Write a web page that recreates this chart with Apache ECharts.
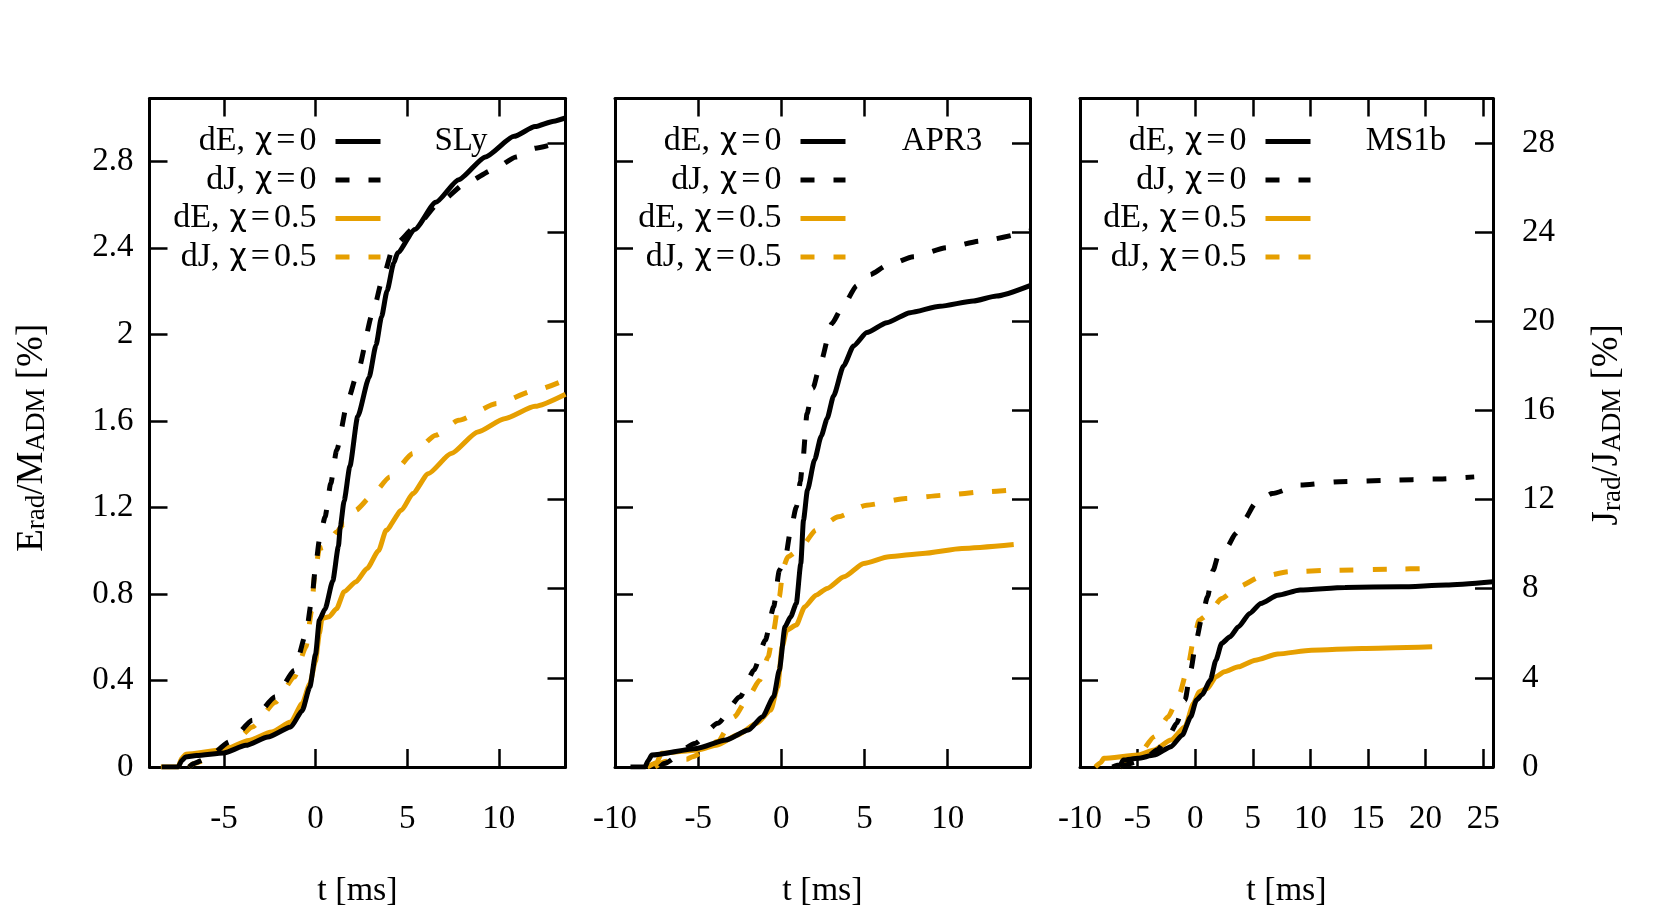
<!DOCTYPE html>
<html><head><meta charset="utf-8">
<script src="https://cdn.jsdelivr.net/npm/echarts@6/dist/echarts.min.js"></script>
<style>html,body{margin:0;padding:0;background:#fff}#c{width:1661px;height:923px}</style>
</head><body><div id="c"></div>
<script>
// ---------- data ----------
const panelNames = ['SLy', 'APR3', 'MS1b'];
const seriesNames = ['dE, χ=0', 'dJ, χ=0', 'dE, χ=0.5', 'dJ, χ=0.5'];
const xRanges = [[-9.06, 13.64], [-10, 14.95], [-10, 25.85]];
const xTicks = [[-5, 0, 5, 10], [-10, -5, 0, 5, 10], [-10, -5, 0, 5, 10, 15, 20, 25]];
const eRange = [0, 3.09];
const eTicks = [0, 0.4, 0.8, 1.2, 1.6, 2, 2.4, 2.8];
const jRange = [0, 30];
const jTicks = [0, 4, 8, 12, 16, 20, 24, 28];

// SLy  (dE in % of M_ADM, dJ in % of J_ADM)
const sly_dE0 = [[-8.4,0],[-7.5,0],[-7.3,0.03],[-7.1,0.046],[-6.5,0.053],[-5,0.065],[-3.8,0.1],[-2.6,0.139],[-1.35,0.185],[-0.73,0.26],[-0.31,0.37],[0,0.52],[0.21,0.68],[0.52,0.73],[0.94,0.86],[1.25,1.02],[1.35,1.11],[1.56,1.23],[1.875,1.39],[2.3,1.62],[2.92,1.80],[3.3,1.95],[3.6,2.08],[3.9,2.2],[4.27,2.33],[4.48,2.377],[5.42,2.485],[6.56,2.61],[7.81,2.715],[9.27,2.82],[10.83,2.915],[11.98,2.96],[13.0,2.985],[13.64,3.0]];
const sly_dJ0 = [[-6.9,0],[-6.67,0.15],[-5.94,0.38],[-4.69,1.13],[-3.44,2.10],[-2.19,3.15],[-1.15,4.34],[-0.52,5.99],[-0.21,7.48],[0,8.98],[0.21,10.19],[0.52,11.22],[0.83,12.72],[1.15,14.21],[1.77,16.47],[2.29,17.70],[3.125,20.39],[3.65,21.88],[4.27,23.40],[5.5,24.27],[6.77,25.34],[8.23,26.21],[9.69,26.80],[10.94,27.38],[12,27.77],[13.44,28.01],[13.64,28.05]];
const sly_dE05 = [[-8.44,0],[-7.5,0],[-7.3,0.04],[-7.08,0.059],[-5,0.08],[-3.65,0.123],[-2.4,0.162],[-1.35,0.208],[-0.73,0.293],[-0.31,0.385],[0,0.49],[0.21,0.617],[0.35,0.686],[0.73,0.694],[1.15,0.732],[1.56,0.81],[2.19,0.855],[2.81,0.917],[3.44,1.0],[3.85,1.094],[4.69,1.187],[5.31,1.264],[6.15,1.356],[7.4,1.449],[8.85,1.549],[10.31,1.61],[11.98,1.667],[13.64,1.723]];
const sly_dJ05 = [[-6.9,0],[-6.67,0.15],[-5.94,0.33],[-4.69,0.89],[-3.44,1.80],[-2.19,2.91],[-1.15,4.04],[-0.52,5.39],[-0.21,7.03],[-0.06,8.53],[0.21,9.81],[0.52,9.87],[1.15,10.55],[1.56,10.92],[2.19,11.52],[3.02,12.13],[4.06,13.02],[5.31,14.07],[6.56,14.89],[7.81,15.56],[9.9,16.31],[11.98,16.9],[13.64,17.38]];

// APR3
const apr_dE0 = [[-9.07,0],[-8.2,0],[-8.0,0.03],[-7.79,0.055],[-5.08,0.086],[-3.33,0.125],[-1.98,0.171],[-1.13,0.232],[-0.46,0.325],[-0.12,0.448],[0.22,0.648],[0.56,0.694],[0.9,0.756],[1.17,0.94],[1.33,1.14],[1.57,1.28],[2.0,1.42],[2.4,1.53],[2.75,1.61],[3.14,1.715],[3.74,1.854],[4.34,1.946],[5.14,2.008],[6.34,2.054],[7.74,2.1],[9.54,2.13],[11.54,2.154],[12.94,2.177],[14.95,2.225]];
const apr_dJ0 = [[-7.3,0],[-7.05,0.16],[-5.19,1.06],[-3.83,1.96],[-2.48,3.15],[-1.64,4.35],[-0.96,5.7],[-0.46,7.19],[-0.12,8.83],[0.22,9.28],[0.56,10.63],[0.9,11.67],[1.14,12.8],[1.3,13.8],[1.54,15.85],[1.9,17.0],[2.34,18.09],[3.04,19.9],[3.64,20.6],[4.54,21.6],[5.34,22.1],[6.34,22.5],[7.94,22.9],[9.94,23.3],[11.94,23.6],[14.95,24.05]];
const apr_dE05 = [[-8.06,0],[-7.5,0.02],[-7.21,0.063],[-5.02,0.079],[-3.83,0.102],[-2.65,0.148],[-1.47,0.202],[-0.63,0.263],[-0.22,0.371],[0.05,0.556],[0.32,0.633],[0.9,0.656],[1.4,0.74],[2.08,0.794],[2.75,0.825],[3.77,0.879],[4.95,0.941],[6.47,0.972],[8.5,0.987],[10.86,1.01],[13.97,1.028]];
const apr_dJ05 = [[-7.6,0],[-7.0,0.25],[-5.69,0.35],[-5.35,0.46],[-3.83,1.14],[-2.82,2.26],[-1.98,3.15],[-1.3,3.9],[-0.79,4.95],[-0.46,6.14],[-0.12,7.64],[0.12,8.98],[0.39,9.43],[1.06,9.73],[2.08,10.63],[3.43,11.23],[5.12,11.75],[7.48,12.05],[9.85,12.2],[12.21,12.35],[13.73,12.42]];

// MS1b
const ms1_dE0 = [[-7.2,0],[-6.5,0.01],[-6.24,0.032],[-4.97,0.04],[-3.56,0.055],[-2.1,0.094],[-1.12,0.148],[-0.39,0.232],[0.1,0.309],[0.58,0.333],[1.32,0.402],[1.8,0.494],[2.29,0.571],[3.02,0.602],[3.75,0.648],[4.73,0.71],[5.7,0.756],[7.16,0.794],[9.11,0.818],[13.01,0.83],[17.88,0.833],[21.78,0.841],[25.85,0.856]];
const ms1_dJ0 = [[-6.48,0],[-4.53,0.31],[-3.31,0.76],[-2.34,1.36],[-1.61,1.96],[-0.88,3.0],[-0.39,4.35],[0.1,5.7],[0.58,6.74],[1.07,7.64],[1.56,8.83],[2.05,9.58],[2.78,9.88],[3.51,10.48],[4.24,11.08],[5.21,11.82],[6.68,12.27],[9.11,12.65],[12.52,12.8],[16.91,12.87],[20.81,12.92],[24.22,13.02]];
const ms1_dE05 = [[-8.67,0],[-8.2,0.02],[-7.94,0.04],[-4.97,0.055],[-3.56,0.079],[-2.1,0.125],[-0.88,0.186],[-0.15,0.294],[0.34,0.348],[1.07,0.363],[1.8,0.417],[2.53,0.44],[3.75,0.463],[5.21,0.494],[7.16,0.522],[10.09,0.54],[14.47,0.548],[20.57,0.556]];
const ms1_dJ05 = [[-6.5,0],[-5.02,0.46],[-3.56,1.36],[-2.34,2.26],[-1.36,3.3],[-0.63,4.5],[-0.15,5.7],[0.34,6.59],[1.07,6.82],[2.29,7.56],[3.75,8.09],[5.7,8.54],[8.14,8.76],[12.04,8.83],[16.91,8.88],[20.57,8.91]];

const panelData = [
  [sly_dE0, sly_dJ0, sly_dE05, sly_dJ05],
  [apr_dE0, apr_dJ0, apr_dE05, apr_dJ05],
  [ms1_dE0, ms1_dJ0, ms1_dE05, ms1_dJ05]
];

// ---------- layout / style ----------
const FONT = 'Liberation Serif';
const BLACK = '#000000', ORANGE = '#E69F00';
const gridLeft = [149.5, 615, 1080];
const gridWidth = [416, 415, 413];
const gridTop = 98.5, gridHeight = 668.5;
const labelX = [461, 942, 1406];
const legendIconRight = [383, 848, 1313];
const lineColors = [BLACK, BLACK, ORANGE, ORANGE];
const dashed = [false, true, false, true];
const DASH = [14, 19];
const LW = 5;

const axisLine = { show: true, onZero: false, lineStyle: { color: BLACK, width: 3 } };
const tickStyle = { color: BLACK, width: 2.5 };
const labelStyle = { fontFamily: FONT, fontSize: 33, color: BLACK, lineHeight: 33 };
const nameStyle = { fontFamily: FONT, fontSize: 34, color: BLACK, lineHeight: 34 };
const titleStyle = { fontFamily: FONT, fontSize: 37, color: BLACK, lineHeight: 37 };
const subRich = {
  s: { fontFamily: FONT, fontSize: 27, lineHeight: 19, verticalAlign: 'bottom', color: BLACK }
};

const grids = [], xAxes = [], yAxes = [], series = [], legends = [], graphics = [];
for (let i = 0; i < 3; i++) {
  grids.push({ left: gridLeft[i], top: gridTop, width: gridWidth[i], height: gridHeight, outerBoundsMode: 'none', containLabel: false });
  xAxes.push({
    type: 'value', gridIndex: i, position: 'bottom', min: xRanges[i][0], max: xRanges[i][1],
    axisLine: axisLine, splitLine: { show: false },
    axisTick: { show: true, inside: true, length: 18, customValues: xTicks[i], lineStyle: tickStyle },
    axisLabel: Object.assign({ show: true, customValues: xTicks[i], margin: 35.5 }, labelStyle),
    name: 't [ms]', nameLocation: 'middle', nameGap: 107,
    nameTextStyle: Object.assign({}, nameStyle)
  });
  xAxes.push({
    type: 'value', gridIndex: i, position: 'top', min: xRanges[i][0], max: xRanges[i][1],
    axisLine: axisLine, splitLine: { show: false },
    axisTick: { show: true, inside: true, length: 18, customValues: xTicks[i], lineStyle: tickStyle },
    axisLabel: { show: false, customValues: xTicks[i] }
  });
  const yl = {
    type: 'value', gridIndex: i, position: 'left', min: eRange[0], max: eRange[1],
    axisLine: axisLine, splitLine: { show: false },
    axisTick: { show: true, inside: true, length: 18, customValues: eTicks, lineStyle: tickStyle },
    axisLabel: Object.assign({ show: i === 0, customValues: eTicks, margin: 16 }, labelStyle)
  };
  if (i === 0) {
    yl.name = 'E{s|rad}/M{s|ADM} [%]';
    yl.nameLocation = 'middle'; yl.nameRotate = 90; yl.nameGap = 99;
    yl.nameTextStyle = Object.assign({ rich: subRich, padding: [0, 10, 0, 0] }, titleStyle);
  }
  yAxes.push(yl);
  const yr = {
    type: 'value', gridIndex: i, position: 'right', min: jRange[0], max: jRange[1],
    axisLine: axisLine, splitLine: { show: false },
    axisTick: { show: true, inside: true, length: 18, customValues: jTicks, lineStyle: tickStyle },
    axisLabel: Object.assign({ show: i === 2, customValues: jTicks, margin: 29 }, labelStyle)
  };
  if (i === 2) {
    yr.name = 'J{s|rad}/J{s|ADM} [%]';
    yr.nameLocation = 'middle'; yr.nameRotate = 90; yr.nameGap = 96;
    yr.nameTextStyle = Object.assign({ rich: subRich, padding: [0, 0, 0, 16] }, titleStyle);
  }
  yAxes.push(yr);

  for (let k = 0; k < 4; k++) {
    series.push({
      name: seriesNames[k], type: 'line',
      xAxisIndex: 2 * i, yAxisIndex: 2 * i + (k % 2),
      data: panelData[i][k],
      symbol: 'none', showSymbol: false,
      smooth: 0.2, smoothMonotone: 'x',
      color: lineColors[k],
      lineStyle: { color: lineColors[k], width: LW, type: dashed[k] ? DASH : 'solid', cap: 'butt' },
      silent: true, z: 2 + (k < 2 ? 1 : 0)
    });
  }

  legends.push({
    data: seriesNames, orient: 'vertical', align: 'right',
    right: 1661 - legendIconRight[i], top: 124.5, padding: 0,
    itemWidth: 45, itemHeight: 32, itemGap: 4.5, selectedMode: false,
    lineStyle: { width: LW },
    itemStyle: { opacity: 0, borderWidth: 0 },
    formatter: n => n.replace(', χ=', ',{g| }{c|χ}{e|=}'),
    textStyle: {
      fontFamily: FONT, fontSize: 34, color: BLACK, lineHeight: 32, padding: [0, 14, 0, 0],
      rich: {
        g: { width: 10, fontFamily: FONT, fontSize: 34, lineHeight: 32 },
        c: { fontFamily: 'DejaVu Sans', fontSize: 30, lineHeight: 32, color: BLACK },
        e: { fontFamily: FONT, fontSize: 34, lineHeight: 32, color: BLACK, padding: [0, 4, 0, 4] }
      }
    }
  });

  graphics.push({
    type: 'text', x: labelX[i], y: 141,
    style: { text: panelNames[i], fontFamily: FONT, fontSize: 33, fill: BLACK, align: 'center', verticalAlign: 'middle' }
  });
}

const chart = echarts.init(document.getElementById('c'), null, { renderer: 'canvas' });
chart.setOption({
  backgroundColor: '#ffffff',
  animation: false,
  grid: grids,
  xAxis: xAxes,
  yAxis: yAxes,
  legend: legends,
  graphic: graphics,
  series: series
});
</script>
</body></html>
